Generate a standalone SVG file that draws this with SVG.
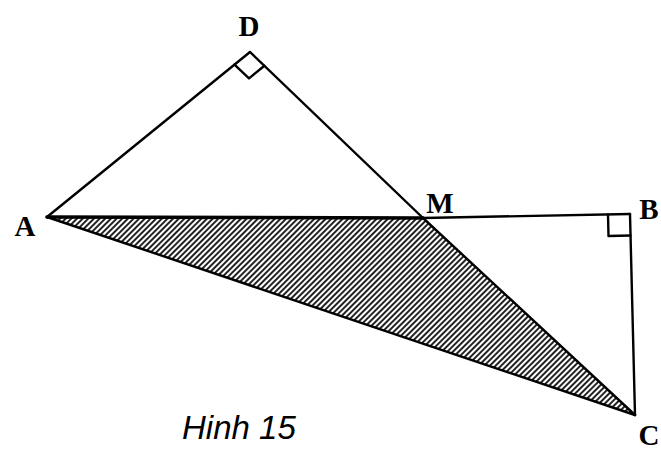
<svg xmlns="http://www.w3.org/2000/svg" width="661" height="450" viewBox="0 0 661 450">
<style>
.ln{stroke:#000;stroke-width:2.4;fill:none;stroke-linecap:round;stroke-linejoin:round}
.lbl{font-family:"Liberation Serif",serif;font-weight:bold;font-size:29px;fill:#000;text-anchor:middle}
.cap{font-family:"Liberation Sans",sans-serif;font-style:italic;font-size:33px;fill:#000}
</style>
<defs>
<pattern id="hatch" width="4" height="4" patternUnits="userSpaceOnUse" patternTransform="rotate(45)">
<rect width="4" height="4" fill="#fff"/>
<rect width="2" height="4" fill="#222"/>
</pattern>
</defs>
<rect width="661" height="450" fill="#fff"/>
<g id="shaded">
<polygon points="47,217 423,218 635,415" fill="url(#hatch)"/>
</g>
<g id="connectors">
<line class="ln" x1="47" y1="217" x2="250" y2="52"/>
<line class="ln" x1="250" y1="52" x2="423" y2="218"/>
<line class="ln" x1="423" y1="218" x2="635" y2="415"/>
<line class="ln" x1="47" y1="217" x2="423" y2="218" style="stroke-width:3.6"/>
<line class="ln" x1="47" y1="217" x2="635" y2="415"/>
<line class="ln" x1="423" y1="218" x2="630" y2="214"/>
<line class="ln" x1="630" y1="214" x2="635" y2="415"/>
<polyline class="ln" points="234.5,64.6 249,78.4 264.4,65.8"/>
<polyline class="ln" points="608,214.4 608.5,236 630.5,235.5"/>
</g>
<g id="D"><text class="lbl" x="249" y="36">D</text></g>
<g id="A"><text class="lbl" x="25" y="236">A</text></g>
<g id="M"><text class="lbl" x="440" y="213">M</text></g>
<g id="B"><text class="lbl" x="649" y="219">B</text></g>
<g id="C"><text class="lbl" x="649" y="445">C</text></g>
<g id="caption"><text class="cap" x="182" y="439">Hinh 15</text></g>
</svg>
